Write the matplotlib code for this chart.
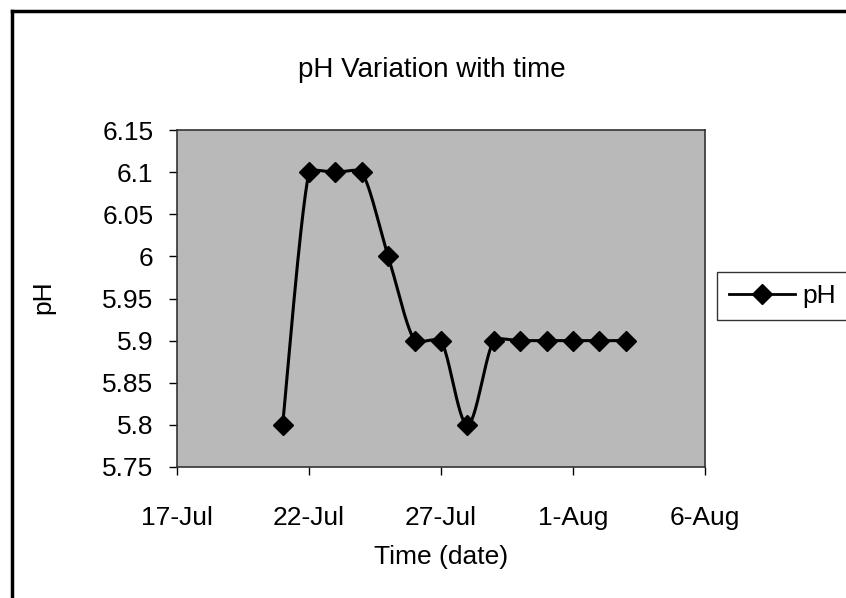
"""pH variation with time - Excel-style smoothed line chart."""

from datetime import date, timedelta

import matplotlib
matplotlib.use("Agg")
import matplotlib.dates as mdates
import matplotlib.pyplot as plt
import numpy as np
from matplotlib.lines import Line2D

plt.rcParams["font.family"] = ["Liberation Sans", "DejaVu Sans"]

# data
dates = [date(2004, 7, 21) + timedelta(days=i) for i in range(14)]
ph = [5.8, 6.1, 6.1, 6.1, 6.0, 5.9, 5.9, 5.8, 5.9, 5.9, 5.9, 5.9, 5.9, 5.9]
xticks = [date(2004, 7, 17) + timedelta(days=5 * i) for i in range(5)]
yticks = [5.75, 5.8, 5.85, 5.9, 5.95, 6.0, 6.05, 6.1, 6.15]
ytick_labels = ["5.75", "5.8", "5.85", "5.9", "5.95", "6", "6.05", "6.1", "6.15"]

FS = 19


def smooth(ax, x, y, n=40):
    """Excel-like smoothed line, built in screen space: cubic Bezier through the
    points, tangents (P[i+1]-P[i-1])/6 shortened next to a much shorter segment."""
    P = ax.transData.transform(np.column_stack([x, y]))
    P = np.vstack([P[:1], P, P[-1:]])
    d = np.hypot(*np.diff(P, axis=0).T)
    t = np.linspace(0, 1, n)[:, None]
    out = []
    for i in range(1, len(P) - 2):
        p0, p3 = P[i], P[i + 1]
        dprev, dcur, dnext = d[i - 1], d[i], d[i + 1]
        k1 = min(1.0, dcur / dprev) if dprev > 0 else 1.0
        k2 = min(1.0, dcur / dnext) if dnext > 0 else 1.0
        p1 = p0 + (P[i + 1] - P[i - 1]) / 6 * k1
        p2 = p3 - (P[i + 2] - P[i]) / 6 * k2
        b = (1 - t) ** 3 * p0 + 3 * (1 - t) ** 2 * t * p1 + 3 * (1 - t) * t ** 2 * p2 + t ** 3 * p3
        out.append(b)
    return ax.transData.inverted().transform(np.vstack(out))


fig = plt.figure(figsize=(8.46, 5.98), dpi=100)
ax = fig.add_axes([177 / 846, 1 - 467 / 598, (705 - 177) / 846, (467 - 130) / 598])
ax.set_facecolor("#b9b9b9")

xn = mdates.date2num(dates)
ax.set_xlim(mdates.date2num(xticks[0]), mdates.date2num(xticks[-1]))
ax.set_ylim(5.75, 6.15)

curve = smooth(ax, xn, ph)
ax.plot(curve[:, 0], curve[:, 1], color="black", lw=2.2, solid_capstyle="round")
ax.plot(xn, ph, ls="none", marker="D", ms=10.5, color="black")

ax.set_xticks(mdates.date2num(xticks))
ax.set_xticklabels([f"{d.day}-{d:%b}" for d in xticks])
ax.set_yticks(yticks)
ax.set_yticklabels(ytick_labels)
ax.tick_params(labelsize=FS, length=6, width=1, direction="out", colors="black")
ax.tick_params(axis="y", pad=11)
ax.tick_params(axis="x", pad=22)
for s in ax.spines.values():
    s.set_linewidth(1.2)
    s.set_color("#333333")

fig.text(432 / 846, 1 - 70 / 598, "pH Variation with time", ha="center", va="center", fontsize=FS + 1)
fig.text(441 / 846, 1 - 557 / 598, "Time (date)", ha="center", va="center", fontsize=FS)
fig.text(43 / 846, 1 - 297 / 598, "pH", ha="center", va="center", rotation=90, fontsize=FS)

# legend box
handle = Line2D([], [], color="black", lw=2, marker="D", ms=10.5)
leg = fig.legend([handle], ["pH"], loc="center left", bbox_to_anchor=(717 / 846, 1 - 296 / 598),
                 fontsize=FS, frameon=True, fancybox=False, handlelength=2.5,
                 borderpad=0.45, handletextpad=0.3, borderaxespad=0)
leg.get_frame().set_edgecolor("black")
leg.get_frame().set_linewidth(1)

# chart area border (left and top visible)
fig.add_artist(Line2D([12 / 846, 12 / 846], [0, 1 - 11 / 598], color="black", lw=2.5,
                      transform=fig.transFigure))
fig.add_artist(Line2D([12 / 846, 1], [1 - 11 / 598, 1 - 11 / 598], color="black", lw=2.5,
                      transform=fig.transFigure))

fig.savefig("out.png", dpi=100)
